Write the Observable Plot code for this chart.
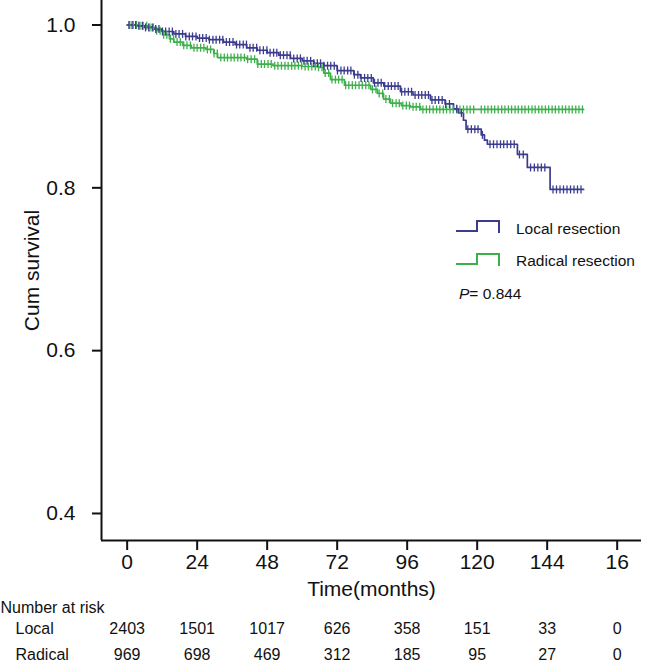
<!DOCTYPE html>
<html>
<head>
<meta charset="utf-8">
<script src="https://cdn.jsdelivr.net/npm/d3@7"></script>
<script src="https://cdn.jsdelivr.net/npm/@observablehq/plot@0.6"></script>
<style>
  html, body { margin: 0; padding: 0; background: #fff; }
  #wrap { position: relative; width: 650px; height: 664px; font-family: "Liberation Sans", Arial, sans-serif; }
  #legend { position: absolute; left: 0; top: 0; width: 650px; height: 664px; pointer-events: none; }
  .lg { position: absolute; font-size: 15.5px; color: #111; white-space: nowrap; line-height: 1; }
</style>
</head>
<body>
<div id="wrap"><div id="chart"></div><div id="legend"></div></div>
<script>
// ---- Data ----
const seriesNames = ["Local resection", "Radical resection"];
const seriesColors = ["#3b3c8e", "#3cb04b"];

// Kaplan-Meier step vertices: time (months) and cumulative survival
const localTime = [0, 3, 6, 9, 12, 16, 20, 24, 28, 33, 37, 41, 44.6, 48, 52, 56, 60, 64, 67.4, 72, 77.7, 80, 84.4, 88, 93.7, 98, 104, 109, 111.9, 113.6, 115.3, 116.2, 121.4, 122.5, 123.5, 133.8, 137.2, 145, 156.5];
const localSurv = [1.0, 0.999, 0.997, 0.995, 0.992, 0.989, 0.986, 0.984, 0.982, 0.979, 0.976, 0.972, 0.969, 0.966, 0.963, 0.959, 0.956, 0.953, 0.950, 0.944, 0.939, 0.935, 0.929, 0.925, 0.918, 0.914, 0.908, 0.903, 0.897, 0.892, 0.883, 0.872, 0.865, 0.8585, 0.8535, 0.841, 0.825, 0.798, 0.798];

const radicalTime = [0, 4, 7, 10, 12.5, 14.5, 16, 19, 22, 27, 29.7, 31, 41, 44.6, 50, 60, 65.5, 67.4, 69.7, 74.5, 83.5, 85.8, 87.9, 90.3, 94, 97.1, 100.6, 156.5];
const radicalSurv = [1.0, 0.999, 0.997, 0.993, 0.988, 0.983, 0.979, 0.975, 0.972, 0.970, 0.965, 0.960, 0.958, 0.952, 0.950, 0.949, 0.948, 0.941, 0.933, 0.926, 0.921, 0.916, 0.909, 0.904, 0.901, 0.8995, 0.8963, 0.8963];

// Censoring times (months)
const localCensor = [0.6, 1.7, 2.9, 4.0, 5.2, 6.3, 7.4, 8.6, 9.8, 10.9, 12.1, 13.2, 14.4, 15.5, 16.7, 17.8, 19.0, 20.1, 21.3, 22.4, 23.6, 24.8, 25.9, 27.1, 28.2, 29.4, 30.5, 31.7, 32.8, 34.0, 35.1, 36.3, 37.5, 38.6, 39.8, 40.9, 42.1, 43.2, 44.4, 45.5, 46.7, 47.9, 49.0, 50.2, 51.3, 52.5, 53.6, 54.8, 55.9, 57.1, 58.3, 59.4, 60.6, 61.7, 62.9, 64.0, 65.2, 66.3, 67.5, 68.7, 69.8, 71.0, 72.1, 73.3, 74.4, 75.6, 76.7, 77.9, 79.1, 80.2, 81.4, 82.5, 83.7, 84.8, 86.0, 87.1, 88.3, 89.5, 90.6, 91.8, 92.9, 94.1, 95.2, 96.4, 97.5, 98.7, 99.9, 101.0, 102.2, 103.3, 104.5, 105.6, 106.8, 108.0, 109.2, 110.5, 113.0, 114.6, 116.8, 118.0, 119.2, 120.3, 121.8, 124.4, 125.6, 126.8, 128.0, 129.1, 130.3, 131.5, 132.7, 134.5, 135.8, 138.3, 139.6, 140.8, 142.0, 143.2, 146.0, 147.2, 148.4, 149.6, 150.8, 152.0, 153.2, 154.4, 155.6];
const radicalCensor = [0.9, 2.1, 3.2, 4.4, 5.5, 6.7, 7.8, 9.0, 10.1, 11.3, 12.5, 13.6, 14.8, 15.9, 17.1, 18.2, 19.4, 20.5, 21.7, 22.9, 24.0, 25.2, 26.3, 27.5, 28.6, 29.8, 30.9, 32.1, 33.3, 34.4, 35.6, 36.7, 37.9, 39.0, 40.2, 41.3, 42.5, 43.7, 44.8, 46.0, 47.1, 48.3, 49.4, 50.6, 51.7, 52.9, 54.1, 55.2, 56.4, 57.5, 58.7, 59.8, 61.0, 62.1, 63.3, 64.5, 65.6, 66.8, 67.9, 69.1, 70.2, 71.4, 72.5, 73.7, 74.9, 76.0, 77.2, 78.3, 79.5, 80.6, 81.8, 82.9, 84.1, 85.3, 86.4, 87.6, 88.7, 89.9, 91.0, 92.2, 93.3, 94.5, 95.7, 96.8, 98.0, 99.1, 100.3, 101.4, 102.6, 103.7, 104.9, 106.1, 107.2, 108.4, 109.5, 110.7, 111.8, 113.0, 114.1, 115.3, 116.5, 117.6, 118.8, 121.4, 122.6, 123.7, 124.9, 126.0, 127.2, 128.4, 129.5, 130.7, 131.8, 133.0, 134.1, 135.3, 136.4, 137.6, 138.8, 139.9, 141.1, 142.2, 143.4, 144.5, 145.7, 146.8, 148.0, 149.2, 150.3, 151.5, 152.6, 153.8, 154.9, 156.1];

// Axes
const xTicks = [0, 24, 48, 72, 96, 120, 144, 168];
const xTickLabels = ["0", "24", "48", "72", "96", "120", "144", "16"];
const yTicks = [0.4, 0.6, 0.8, 1.0];

// Number at risk
const riskRowLabels = ["Local", "Radical"];
const localRisk = [2403, 1501, 1017, 626, 358, 151, 33, 0];
const radicalRisk = [969, 698, 469, 312, 185, 95, 27, 0];
const pValueText = "0.844";

// ---- Build ----
const xDomain = [-8.8, 176.34];
const yDomain = [0.3668, 1.0301];

function toRows(times, survs, name) {
  return times.map((t, i) => ({ t, s: survs[i], name }));
}
function survAt(times, survs, t) {
  const i = d3.bisectRight(times, t) - 1;
  return survs[Math.max(0, i)];
}
const localRows = toRows(localTime, localSurv, seriesNames[0]);
const radicalRows = toRows(radicalTime, radicalSurv, seriesNames[1]);
const localCens = localCensor.map(t => ({ t, s: survAt(localTime, localSurv, t) }));
const radicalCens = radicalCensor.map(t => ({ t, s: survAt(radicalTime, radicalSurv, t) }));

const censorSymbol = {
  draw(context) {
    context.moveTo(0, -4);
    context.lineTo(0, 4);
  }
};

const riskLocalRows = xTicks.map((t, i) => ({ t, n: String(localRisk[i]) }));
const riskRadicalRows = xTicks.map((t, i) => ({ t, n: String(radicalRisk[i]) }));

const font = "'Liberation Sans', Arial, sans-serif";

const chart = Plot.plot({
  width: 650,
  height: 664,
  marginLeft: 101,
  marginRight: 9,
  marginTop: 0,
  marginBottom: 124,
  style: { fontFamily: font, color: "#111", background: "#fff", overflow: "visible" },
  x: { domain: xDomain },
  y: { domain: yDomain },
  marks: [
    Plot.axisY(yTicks, { tickSize: 9, tickPadding: 17, tickFormat: d => d.toFixed(1), fontSize: 21, label: null, strokeWidth: 2, stroke: "#111", fill: "#111" }),
    Plot.axisX(xTicks, { tickSize: 10, tickPadding: 4, tickFormat: d => xTickLabels[xTicks.indexOf(d)], fontSize: 21, label: null, strokeWidth: 2, stroke: "#111", fill: "#111" }),
    Plot.ruleX([xDomain[0]], { stroke: "#111", strokeWidth: 2 }),
    Plot.ruleY([yDomain[0]], { stroke: "#111", strokeWidth: 2 }),
    Plot.line(radicalRows, { x: "t", y: "s", curve: "step-after", stroke: seriesColors[1], strokeWidth: 1.7 }),
    Plot.line(localRows, { x: "t", y: "s", curve: "step-after", stroke: seriesColors[0], strokeWidth: 1.7 }),
    Plot.dot(radicalCens, { x: "t", y: "s", symbol: censorSymbol, stroke: seriesColors[1], strokeWidth: 1.3, fill: "none" }),
    Plot.dot(localCens, { x: "t", y: "s", symbol: censorSymbol, stroke: seriesColors[0], strokeWidth: 1.3, fill: "none" }),
    Plot.text(["Cum survival"], { frameAnchor: "left", dx: -69, rotate: -90, textAnchor: "middle", lineAnchor: "middle", fontSize: 21, fill: "#111" }),
    Plot.text(["Time(months)"], { frameAnchor: "bottom", dy: 49, lineAnchor: "middle", fontSize: 21, fill: "#111" }),
    Plot.text(["Number at risk"], { frameAnchor: "bottom-left", dx: -101, dy: 67, textAnchor: "start", lineAnchor: "middle", fontSize: 16, fill: "#111" }),
    Plot.text([riskRowLabels[0]], { frameAnchor: "bottom-left", dx: -86, dy: 88, textAnchor: "start", lineAnchor: "middle", fontSize: 16, fill: "#111" }),
    Plot.text([riskRowLabels[1]], { frameAnchor: "bottom-left", dx: -86, dy: 114, textAnchor: "start", lineAnchor: "middle", fontSize: 16, fill: "#111" }),
    Plot.text(riskLocalRows, { x: "t", text: "n", frameAnchor: "bottom", dy: 88, lineAnchor: "middle", fontSize: 16, fill: "#111" }),
    Plot.text(riskRadicalRows, { x: "t", text: "n", frameAnchor: "bottom", dy: 114, lineAnchor: "middle", fontSize: 16, fill: "#111" })
  ]
});
document.getElementById("chart").appendChild(chart);

// Legend (overlay)
const legend = document.getElementById("legend");
function glyph(color, top) {
  const ns = "http://www.w3.org/2000/svg";
  const svg = document.createElementNS(ns, "svg");
  svg.setAttribute("width", "46");
  svg.setAttribute("height", "14");
  svg.style.position = "absolute";
  svg.style.left = "455px";
  svg.style.top = top + "px";
  const p = document.createElementNS(ns, "path");
  p.setAttribute("d", "M1,11 H22 V1 H44 V13");
  p.setAttribute("fill", "none");
  p.setAttribute("stroke", color);
  p.setAttribute("stroke-width", "2");
  svg.appendChild(p);
  legend.appendChild(svg);
}
glyph(seriesColors[0], 220);
glyph(seriesColors[1], 253);
function label(html, left, top) {
  const d = document.createElement("div");
  d.className = "lg";
  d.style.left = left + "px";
  d.style.top = top + "px";
  d.innerHTML = html;
  legend.appendChild(d);
}
label(seriesNames[0], 516, 221);
label(seriesNames[1], 516, 253);
label("<i>P</i>= " + pValueText, 459, 286);
</script>
</body>
</html>
